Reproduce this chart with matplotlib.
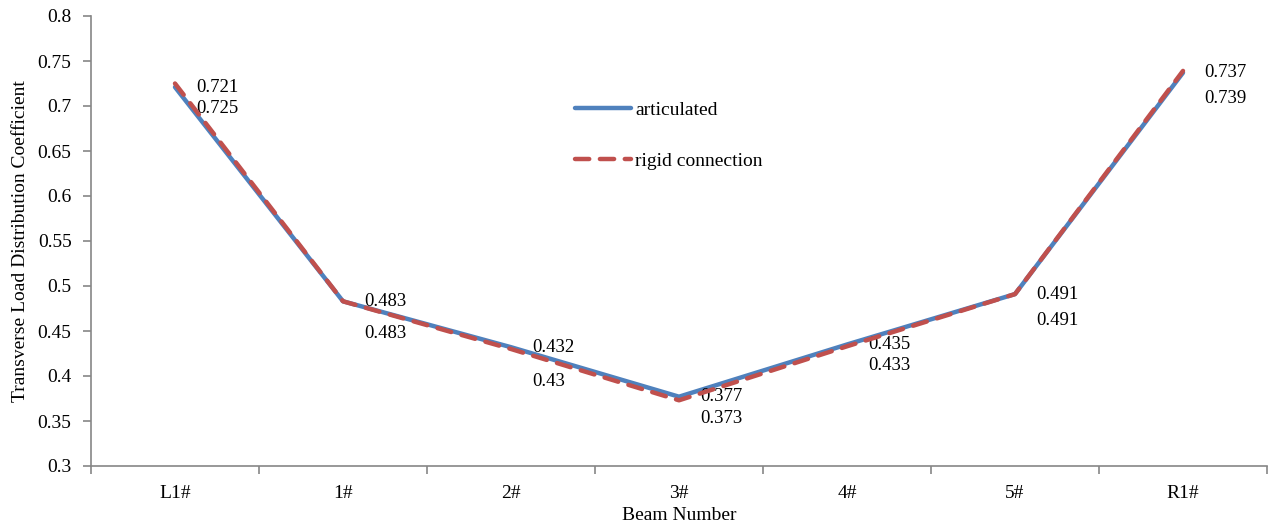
import matplotlib.pyplot as plt
from matplotlib.ticker import FixedLocator

plt.rcParams['font.family'] = ['Liberation Serif', 'DejaVu Serif']

beams = ['L1#', '1#', '2#', '3#', '4#', '5#', 'R1#']
articulated = [0.721, 0.483, 0.432, 0.377, 0.435, 0.491, 0.737]
rigid = [0.725, 0.483, 0.43, 0.373, 0.433, 0.491, 0.739]

# vertical shift (pixels) of the rigid-connection labels below their points
rigid_label_dy = [-25, -32, -33, -18, -19, -26, -28]

blue = '#4F81BD'
red = '#C0504D'
gray = '#868686'

fig = plt.figure(figsize=(12.72, 5.27), dpi=100)
ax = fig.add_axes([91 / 1272, 61 / 527, 1176 / 1272, 450 / 527])

x = list(range(len(beams)))
ax.plot(x, articulated, color=blue, lw=3.2, solid_capstyle='round',
        solid_joinstyle='round', label='articulated', zorder=3)
ax.plot(x, rigid, color=red, lw=3.2, linestyle=(0, (3.2, 2.4)),
        dash_capstyle='round', label='rigid connection', zorder=4)

for i in x:
    ax.annotate(f'{articulated[i]:g}', (i, articulated[i]), xytext=(21, 0),
                textcoords='offset pixels', ha='left', va='center', fontsize=13.5)
    ax.annotate(f'{rigid[i]:g}', (i, rigid[i]), xytext=(21, rigid_label_dy[i]),
                textcoords='offset pixels', ha='left', va='center', fontsize=13.5)

ax.set_xlim(-0.5, len(beams) - 0.5)
ax.set_ylim(0.3, 0.8)
yticks = [round(0.3 + 0.05 * k, 2) for k in range(11)]
ax.set_yticks(yticks)
ax.set_yticklabels([f'{v:g}' for v in yticks])

ax.set_xticks(x)
ax.set_xticklabels(beams)
ax.xaxis.set_minor_locator(FixedLocator([i - 0.5 for i in range(len(beams) + 1)]))
ax.tick_params(axis='x', which='major', length=0, pad=14, labelsize=14)
ax.tick_params(axis='x', which='minor', length=6, width=1.2, color=gray)
ax.tick_params(axis='y', length=6, width=1.2, color=gray, pad=8, labelsize=14)

for side in ['top', 'right']:
    ax.spines[side].set_visible(False)
for side in ['left', 'bottom']:
    ax.spines[side].set_color(gray)
    ax.spines[side].set_linewidth(1.2)

ax.set_xlabel('Beam Number', fontsize=14, labelpad=3)
ax.set_ylabel('Transverse Load Distribution Coefficient', fontsize=14, labelpad=6)

ax.legend(loc='upper left', bbox_to_anchor=(575 / 1272, 1 - 101 / 527),
          bbox_transform=fig.transFigure, frameon=False, fontsize=14,
          handlelength=2.9, handletextpad=0.2, labelspacing=1.75,
          borderpad=0, borderaxespad=0)

fig.savefig('out.png', dpi=100)
